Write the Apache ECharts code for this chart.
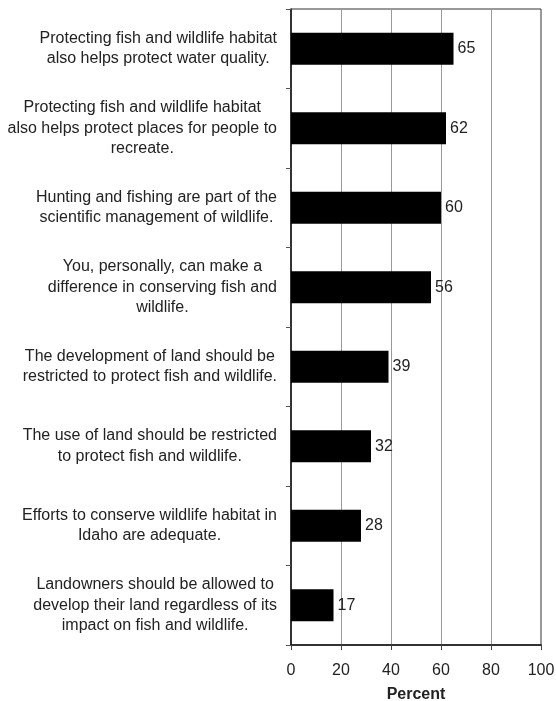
<!DOCTYPE html>
<html>
<head>
<meta charset="utf-8">
<script src="https://cdn.jsdelivr.net/npm/echarts@6/dist/echarts.min.js"></script>
<style>
  html, body { margin: 0; padding: 0; background: #fff; }
  #chart { width: 556px; height: 701px; }
</style>
</head>
<body>
<div id="chart"></div>
<script>
// Statements, top to bottom, with the share who agreed (percent)
var statements = [
  "Protecting fish and wildlife habitat\nalso helps protect water quality.",
  "Protecting fish and wildlife habitat\nalso helps protect places for people to\nrecreate.",
  "Hunting and fishing are part of the\nscientific management of wildlife.",
  "You, personally, can make a\ndifference in conserving fish and\nwildlife.",
  "The development of land should be\nrestricted to protect fish and wildlife.",
  "The use of land should be restricted\nto protect fish and wildlife.",
  "Efforts to conserve wildlife habitat in\nIdaho are adequate.",
  "Landowners should be allowed to\ndevelop their land regardless of its\nimpact on fish and wildlife."
];
var percents = [65, 62, 60, 56, 39, 32, 28, 17];
var axisTicks = [0, 20, 40, 60, 80, 100];
var axisTitle = "Percent";

var FONT = "'Liberation Sans', Arial, Helvetica, sans-serif";
var chart = echarts.init(document.getElementById('chart'), null, { renderer: 'canvas' });

chart.setOption({
  animation: false,
  backgroundColor: '#ffffff',
  textStyle: { fontFamily: FONT },
  grid: {
    left: 291, right: 15, top: 9, bottom: 56,
    outerBoundsMode: 'none',
    containLabel: false,
    show: true, borderColor: '#333', borderWidth: 1, backgroundColor: 'transparent'
  },
  xAxis: {
    type: 'value',
    min: axisTicks[0],
    max: axisTicks[axisTicks.length - 1],
    interval: axisTicks[1] - axisTicks[0],
    name: axisTitle,
    nameLocation: 'middle',
    nameGap: 42,
    nameTextStyle: { fontFamily: FONT, fontSize: 16, fontWeight: 'bold', color: '#222' },
    axisLine: { show: true, lineStyle: { color: '#111', width: 1.5 } },
    axisTick: { show: true, length: 5, lineStyle: { color: '#444' } },
    axisLabel: { fontFamily: FONT, fontSize: 16, color: '#222', margin: 18 },
    splitLine: { show: true, lineStyle: { color: '#999', width: 1 } }
  },
  yAxis: {
    type: 'category',
    inverse: true,
    data: statements,
    axisLine: { show: true, lineStyle: { color: '#111', width: 1.5 } },
    axisTick: { show: true, length: 5, lineStyle: { color: '#555' } },
    axisLabel: {
      interval: 0,
      align: 'right',
      margin: 14,
      formatter: function (v) {
        return v.split('\n').map(function (l) { return '{c|' + l + '}'; }).join('\n');
      },
      rich: {
        c: { align: 'center', fontFamily: FONT, fontSize: 16, lineHeight: 20.5, color: '#222' }
      }
    },
    splitLine: { show: false }
  },
  series: [{
    type: 'bar',
    data: percents,
    barWidth: '40%',
    itemStyle: { color: '#000000' },
    label: {
      show: true,
      position: 'right',
      distance: 4,
      fontFamily: FONT,
      fontSize: 16,
      color: '#222'
    }
  }]
});
</script>
</body>
</html>
